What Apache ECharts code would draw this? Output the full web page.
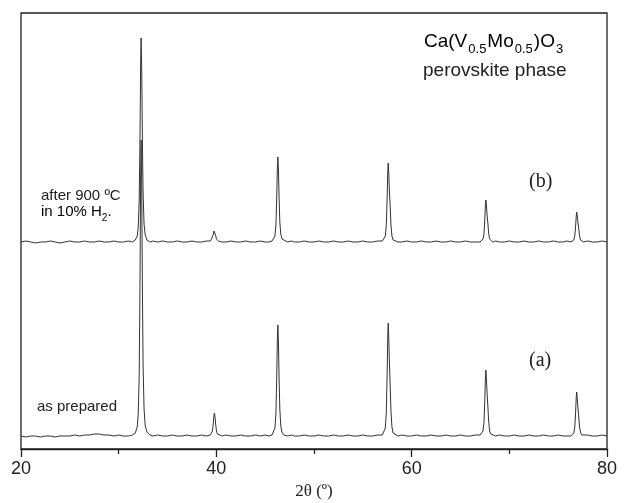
<!DOCTYPE html>
<html>
<head>
<meta charset="utf-8">
<script src="https://cdn.jsdelivr.net/npm/echarts@6/dist/echarts.min.js"></script>
<style>
  html, body { margin: 0; padding: 0; background: #fff; }
  #container { width: 633px; height: 503px; }
</style>
</head>
<body>
<div id="container"></div>
<script>
// x tick labels (2theta, degrees)
var xTicks = [20, 40, 60, 80];

// vertical offsets of the two stacked patterns (arbitrary units)
var offsetA = 12;
var offsetB = 206;

// (a) as prepared: [2theta, intensity]
var asPrepared = [
  [20.0,1],[20.5,0],[21.0,1],[21.5,1],[22.0,0],[22.5,1],[23.0,1],[23.5,0],[24.0,1],[24.5,1],
  [25.0,1],[25.5,2],[26.0,1],[26.5,2],[27.0,2],[27.5,3],[28.0,3],[28.5,2],[29.0,2],[29.5,1],
  [30.0,2],[30.5,1],[31.0,1],[31.4,2],
  [31.7,4],[31.9,10],[32.0,22],[32.1,60],[32.18,149],[32.25,261],[32.3,297],[32.36,253],
  [32.43,149],[32.5,72],[32.6,28],[32.72,11],[32.9,5],
  [33.2,2],[33.5,1],[34.0,2],[34.5,1],[35.0,1],[35.5,2],[36.0,1],[36.5,1],[37.0,2],[37.5,1],
  [38.0,1],[38.5,2],[39.0,1],
  [39.4,2],[39.5,3],[39.6,6],[39.68,13],[39.75,21],[39.8,24],[39.86,21],[39.93,13],[40.0,7],
  [40.1,3],[40.22,2],
  [40.6,1],[41.0,2],[41.5,1],[42.0,1],[42.5,2],[43.0,1],[43.5,1],[44.0,2],[44.5,1],[45.0,2],
  [45.4,1],
  [45.7,2],[45.9,4],[46.0,9],[46.1,23],[46.18,57],[46.25,99],[46.3,112],[46.36,95],
  [46.43,57],[46.5,28],[46.6,11],[46.72,5],[46.9,2],
  [47.3,1],[47.7,2],[48.0,1],[48.5,1],[49.0,2],[49.5,1],[50.0,1],[50.5,2],[51.0,1],[51.5,1],
  [52.0,2],[52.5,1],[53.0,1],[53.5,2],[54.0,1],[54.5,1],[55.0,2],[55.5,1],[56.0,1],[56.5,2],
  [57.0,2],[57.2,4],[57.3,9],[57.4,24],[57.48,58],[57.55,100],[57.6,114],[57.66,97],
  [57.72,74],[57.8,52],[57.88,26],[57.98,10],[58.1,4],[58.3,2],
  [58.6,1],[59.0,2],[59.5,1],[60.0,1],[60.5,2],[61.0,1],[61.5,1],[62.0,2],[62.5,1],[63.0,1],
  [63.5,2],[64.0,1],[64.5,1],[65.0,2],[65.5,1],[66.0,1],[66.5,2],
  [67.0,2],[67.2,3],[67.3,6],[67.4,14],[67.48,34],[67.55,59],[67.6,67],[67.66,57],
  [67.72,44],[67.8,31],[67.88,16],[67.98,6],[68.1,3],[68.3,2],
  [68.6,1],[69.0,2],[69.5,1],[70.0,1],[70.5,2],[71.0,1],[71.5,1],[72.0,2],[72.5,1],[73.0,1],
  [73.5,2],[74.0,1],[74.5,1],[75.0,2],[75.5,1],[75.9,1],
  [76.3,1],[76.5,2],[76.6,4],[76.7,10],[76.78,23],[76.85,40],[76.9,45],[76.96,38],
  [77.02,30],[77.1,21],[77.18,11],[77.28,5],[77.4,2],[77.6,1],
  [78.0,2],[78.5,1],[79.0,1],[79.5,2],[80.0,1]
];

// (b) after 900 C in 10% H2: [2theta, intensity]
var afterH2 = [
  [20.0,1],[20.5,2],[21.0,1],[21.5,0],[22.0,1],[22.5,1],[23.0,2],[23.5,1],[24.0,0],[24.5,1],
  [25.0,2],[25.5,1],[26.0,1],[26.5,2],[27.0,1],[27.5,1],[28.0,2],[28.5,1],[29.0,1],[29.5,2],
  [30.0,1],[30.5,1],[31.0,2],[31.4,1],
  [31.7,3],[31.9,7],[32.0,15],[32.1,42],[32.18,103],[32.25,181],[32.3,205],[32.36,174],
  [32.43,103],[32.5,50],[32.6,19],[32.72,8],[32.9,3],
  [33.2,1],[33.5,2],[34.0,1],[34.5,2],[35.0,1],[35.5,1],[36.0,2],[36.5,1],[37.0,1],[37.5,2],
  [38.0,1],[38.5,1],[39.0,2],
  [39.4,2],[39.5,2],[39.6,4],[39.68,8],[39.75,12],[39.8,14],[39.86,12],[39.93,8],[40.0,4],
  [40.1,2],[40.22,2],
  [40.6,1],[41.0,1],[41.5,2],[42.0,1],[42.5,1],[43.0,2],[43.5,1],[44.0,1],[44.5,2],[45.0,1],
  [45.4,1],
  [45.7,2],[45.9,4],[46.0,7],[46.1,18],[46.18,44],[46.25,76],[46.3,86],[46.36,73],
  [46.43,44],[46.5,21],[46.6,9],[46.72,4],[46.9,2],
  [47.3,1],[47.7,2],[48.0,1],[48.5,1],[49.0,2],[49.5,1],[50.0,1],[50.5,2],[51.0,1],[51.5,1],
  [52.0,2],[52.5,1],[53.0,1],[53.5,2],[54.0,1],[54.5,1],[55.0,2],[55.5,1],[56.0,1],[56.5,2],
  [57.0,2],[57.2,3],[57.3,7],[57.4,17],[57.48,41],[57.55,71],[57.6,80],[57.66,68],
  [57.72,52],[57.8,37],[57.88,18],[57.98,7],[58.1,3],[58.3,2],
  [58.6,1],[59.0,1],[59.5,2],[60.0,1],[60.5,1],[61.0,2],[61.5,1],[62.0,1],[62.5,2],[63.0,1],
  [63.5,1],[64.0,2],[64.5,1],[65.0,1],[65.5,2],[66.0,1],[66.5,1],
  [67.0,1],[67.2,2],[67.3,4],[67.4,9],[67.48,22],[67.55,38],[67.6,43],[67.66,37],
  [67.72,28],[67.8,20],[67.88,10],[67.98,4],[68.1,2],[68.3,1],
  [68.6,2],[69.0,1],[69.5,1],[70.0,2],[70.5,1],[71.0,1],[71.5,2],[72.0,1],[72.5,1],[73.0,2],
  [73.5,1],[74.0,1],[74.5,2],[75.0,1],[75.5,1],[75.9,2],
  [76.3,1],[76.5,2],[76.6,3],[76.7,7],[76.78,16],[76.85,27],[76.9,31],[76.96,27],
  [77.02,21],[77.1,15],[77.18,8],[77.28,3],[77.4,2],[77.6,1],
  [78.0,2],[78.5,1],[79.0,1],[79.5,2],[80.0,1]
];

function shift(data, off) {
  return data.map(function (p) { return [p[0], p[1] + off]; });
}

var dom = document.getElementById("container");
var myChart = echarts.init(dom, null, { renderer: "canvas" });

var sans = "Liberation Sans";
var serif = "Liberation Serif";
var ink = "#222";

var option = {
  animation: false,
  grid: {
    left: 21, right: 26, top: 13, bottom: 54,
    outerBoundsMode: "none",
    containLabel: false,
    show: true, borderColor: ink, borderWidth: 1.3, backgroundColor: "#fff"
  },
  xAxis: {
    type: "value",
    min: xTicks[0],
    max: xTicks[xTicks.length - 1],
    interval: 20,
    name: "2θ (º)",
    nameLocation: "middle",
    nameGap: 34,
    nameTextStyle: { fontFamily: serif, fontSize: 17, color: ink },
    axisLine: { show: true, onZero: false, lineStyle: { color: ink, width: 1.3 } },
    axisTick: { show: true, inside: false, length: 8, lineStyle: { color: ink, width: 1.3 } },
    minorTick: { show: true, splitNumber: 2, length: 5, lineStyle: { color: ink, width: 1.3 } },
    axisLabel: { fontFamily: sans, fontSize: 18, color: ink, margin: 11 },
    splitLine: { show: false }
  },
  yAxis: {
    type: "value",
    min: 0,
    max: 436,
    axisLine: { show: false },
    axisTick: { show: false },
    axisLabel: { show: false },
    splitLine: { show: false }
  },
  series: [
    {
      name: "as prepared",
      type: "line",
      data: shift(asPrepared, offsetA),
      showSymbol: false,
      lineStyle: { color: "#333", width: 1 }
    },
    {
      name: "after 900 ºC in 10% H2",
      type: "line",
      data: shift(afterH2, offsetB),
      showSymbol: false,
      lineStyle: { color: "#333", width: 1 }
    }
  ],
  graphic: [
    {
      type: "text", left: 424, top: 32,
      style: {
        text: "{m|Ca(V}{s|0.5}{m|Mo}{s|0.5}{m|)O}{s|3}",
        rich: {
          m: { fontFamily: sans, fontSize: 19, color: ink, lineHeight: 22, verticalAlign: "top" },
          s: { fontFamily: sans, fontSize: 13, color: ink, lineHeight: 13, padding: [11, 1, 0, 1], verticalAlign: "top" }
        }
      }
    },
    {
      type: "text", left: 423, top: 61,
      style: { text: "perovskite phase", font: "19px " + sans, fill: ink }
    },
    {
      type: "text", left: 41, top: 188,
      style: { text: "after 900 ºC", font: "15px " + sans, fill: ink }
    },
    {
      type: "text", left: 41, top: 204,
      style: {
        text: "{m|in 10% H}{s|2}{m|.}",
        rich: {
          m: { fontFamily: sans, fontSize: 15, color: ink, lineHeight: 17, verticalAlign: "top" },
          s: { fontFamily: sans, fontSize: 10, color: ink, lineHeight: 10, padding: [9, 0, 0, 0], verticalAlign: "top" }
        }
      }
    },
    {
      type: "text", left: 37, top: 399,
      style: { text: "as prepared", font: "15px " + sans, fill: ink }
    },
    {
      type: "text", left: 529, top: 172,
      style: { text: "(b)", font: "20px " + serif, fill: ink }
    },
    {
      type: "text", left: 529, top: 351,
      style: { text: "(a)", font: "20px " + serif, fill: ink }
    }
  ]
};

myChart.setOption(option);
window.addEventListener("resize", myChart.resize);
</script>
</body>
</html>
